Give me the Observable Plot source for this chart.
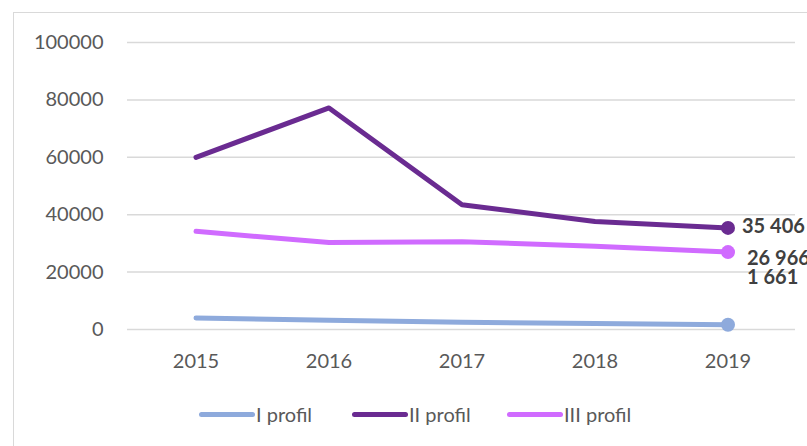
<!DOCTYPE html>
<html><head><meta charset="utf-8">
<script src="https://cdn.jsdelivr.net/npm/d3@7"></script>
<script src="https://cdn.jsdelivr.net/npm/@observablehq/plot@0.6"></script>
<style>
html,body{margin:0;padding:0;background:#fff;overflow:hidden;width:807px;height:446px;}
#frame{position:absolute;left:13px;top:12px;width:900px;height:500px;border:1px solid #d9d9d9;box-sizing:border-box;}
#chart{position:absolute;left:0;top:0;}
#legend{position:absolute;left:0;top:380px;width:807px;height:62px;font-family:Lato,sans-serif;font-size:20px;color:#595959;}
.li{position:absolute;top:22px;display:flex;align-items:center;white-space:nowrap;}
.sw{width:56px;height:5px;border-radius:3px;margin-right:1px;}
</style></head>
<body>
<div id="frame"></div>
<div id="chart"></div>
<div id="legend"></div>
<script>
const years = ["2015","2016","2017","2018","2019"];
const seriesNames = ["I profil","II profil","III profil"];
const seriesColors = ["#8eaadc","#6a2b91","#d06bff"];
const profilI = [4000, 3200, 2500, 2100, 1661];
const profilII = [60000, 77200, 43500, 37600, 35406];
const profilIII = [34200, 30300, 30600, 29000, 26966];
const yTicks = [0, 20000, 40000, 60000, 80000, 100000];
const endLabels = ["1 661", "35 406", "26 966"];

const allSeries = [profilI, profilII, profilIII];
const data = [];
allSeries.forEach((vals, si) => vals.forEach((v, i) => data.push({year: years[i], value: v, series: seriesNames[si]})));
const last = allSeries.map((vals, si) => ({year: years[years.length-1], value: vals[vals.length-1], series: seriesNames[si], label: endLabels[si]}));

const chart = Plot.plot({
  width: 807, height: 380,
  marginLeft: 127, marginRight: 12, marginTop: 42, marginBottom: 51,
  style: {fontFamily: "Lato, sans-serif", fontSize: "20px", color: "#595959", background: "transparent", overflow: "visible"},
  x: {type: "band", domain: years, padding: 0, label: null},
  y: {domain: [0, 100000], label: null},
  color: {domain: seriesNames, range: seriesColors},
  marks: [
    Plot.gridY(yTicks, {stroke: "#d9d9d9", strokeOpacity: 1, strokeWidth: 1.5}),
    Plot.axisX({tickSize: 0, tickPadding: 24, fontSize: 20, fill: "#595959"}),
    Plot.axisY({ticks: yTicks, tickSize: 0, tickPadding: 24, fontSize: 20, fill: "#595959", tickFormat: d => String(d)}),
    Plot.line(data, {x: "year", y: "value", z: "series", stroke: "series", strokeWidth: 5, strokeLinejoin: "round", strokeLinecap: "round"}),
    Plot.dot(last, {x: "year", y: "value", fill: "series", r: 7}),
    Plot.text(last.filter(d => d.series === "II profil"), {x: "year", y: "value", text: "label", dx: 14, dy: -1, textAnchor: "start", fontWeight: "bold", fontSize: 20, fill: "#404040"}),
    Plot.text(last.filter(d => d.series === "III profil"), {x: "year", y: "value", text: "label", dx: 19, dy: 6, textAnchor: "start", fontWeight: "bold", fontSize: 20, fill: "#404040"}),
    Plot.text(last.filter(d => d.series === "I profil"), {x: "year", y: "value", text: "label", dx: 19, dy: -47, textAnchor: "start", fontWeight: "bold", fontSize: 20, fill: "#404040"})
  ]
});
document.getElementById("chart").appendChild(chart);

const lg = document.getElementById("legend");
const lefts = [199, 352, 507];
seriesNames.forEach((n, i) => {
  const d = document.createElement("div");
  d.className = "li";
  d.style.left = lefts[i] + "px";
  d.innerHTML = `<div class="sw" style="background:${seriesColors[i]}"></div><span>${n}</span>`;
  lg.appendChild(d);
});
</script>
</body></html>
